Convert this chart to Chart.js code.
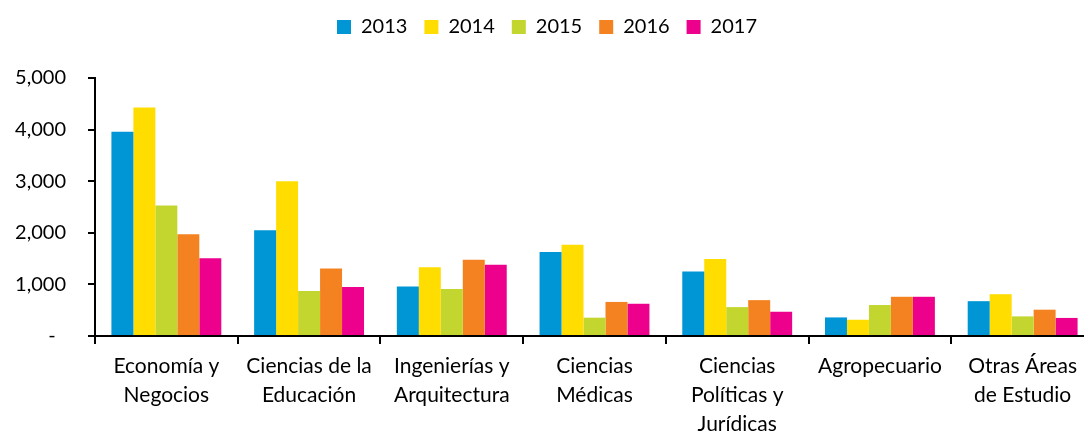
<!DOCTYPE html>
<html>
<head>
<meta charset="utf-8">
<script src="https://cdn.jsdelivr.net/npm/chart.js@4.4.1/dist/chart.umd.min.js"></script>
<style>
  html, body { margin: 0; padding: 0; background: #fff; overflow: hidden; }
  #wrap { width: 1094px; height: 433px; }
</style>
</head>
<body>
<div id="wrap"><canvas id="areasChart"></canvas></div>
<script>
const categories = [
    ['Economía y', 'Negocios'],
    ['Ciencias de la', 'Educación'],
    ['Ingenierías y', 'Arquitectura'],
    ['Ciencias', 'Médicas'],
    ['Ciencias', 'Políticas y', 'Jurídicas'],
    ['Agropecuario'],
    ['Otras Áreas', 'de Estudio']
]
const years = ['2013', '2014', '2015', '2016', '2017']
const values2013 = [3960, 2050, 960, 1630, 1250, 360, 675]
const values2014 = [4430, 3000, 1330, 1770, 1490, 315, 810]
const values2015 = [2530, 870, 910, 355, 560, 600, 380]
const values2016 = [1970, 1310, 1480, 660, 695, 760, 510]
const values2017 = [1505, 950, 1380, 625, 470, 760, 350]
const yearColors = ['#0096D6', '#FFDD00', '#C3D62F', '#F58220', '#EC008C']

const font = 'Lato'
Chart.defaults.font.family = font
Chart.defaults.color = '#000'

const allValues = [values2013, values2014, values2015, values2016, values2017]

const data = {
    labels: categories,
    datasets: years.map((y, i) => ({
        label: y,
        data: allValues[i],
        backgroundColor: yearColors[i],
        borderWidth: 0,
        barPercentage: 1,
        categoryPercentage: 0.77
    }))
}

// un poco mas de espacio debajo de la leyenda
const legendSpace = {
    id: 'legendSpace',
    beforeInit(chart) {
        const fit = chart.legend.fit
        chart.legend.fit = function () {
            fit.bind(chart.legend)()
            this.height += 31
        }
    }
}

const options = {
    responsive: true,
    maintainAspectRatio: false,
    animation: false,
    layout: { padding: { left: 0, right: 0, top: 0, bottom: 0 } },
    plugins: {
        legend: {
            position: 'top',
            labels: {
                boxWidth: 14,
                boxHeight: 14,
                padding: 17,
                font: { size: 20 },
                color: '#000'
            }
        },
        tooltip: { enabled: false }
    },
    scales: {
        x: {
            offset: true,
            grid: { display: true, drawOnChartArea: false, offset: true, tickLength: 8, color: '#000', lineWidth: 2 },
            border: { display: true, color: '#000', width: 2 },
            ticks: { font: { size: 21, lineHeight: 1.38 }, padding: 8, maxRotation: 0, autoSkip: false, color: '#000' },
            afterFit: scale => { scale.height = 97 }
        },
        y: {
            min: 0,
            max: 5000,
            grid: { display: true, drawOnChartArea: false, tickLength: 7, color: '#000', lineWidth: 2 },
            border: { display: true, color: '#000', width: 2 },
            ticks: {
                stepSize: 1000,
                padding: 22,
                font: { size: 20 },
                color: '#000',
                callback: v => v === 0 ? '-  ' : v.toLocaleString('en-US')
            },
            afterFit: scale => { scale.width = 95 }
        }
    }
}

new Chart('areasChart', { type: 'bar', data, options, plugins: [legendSpace] })
</script>
</body>
</html>
